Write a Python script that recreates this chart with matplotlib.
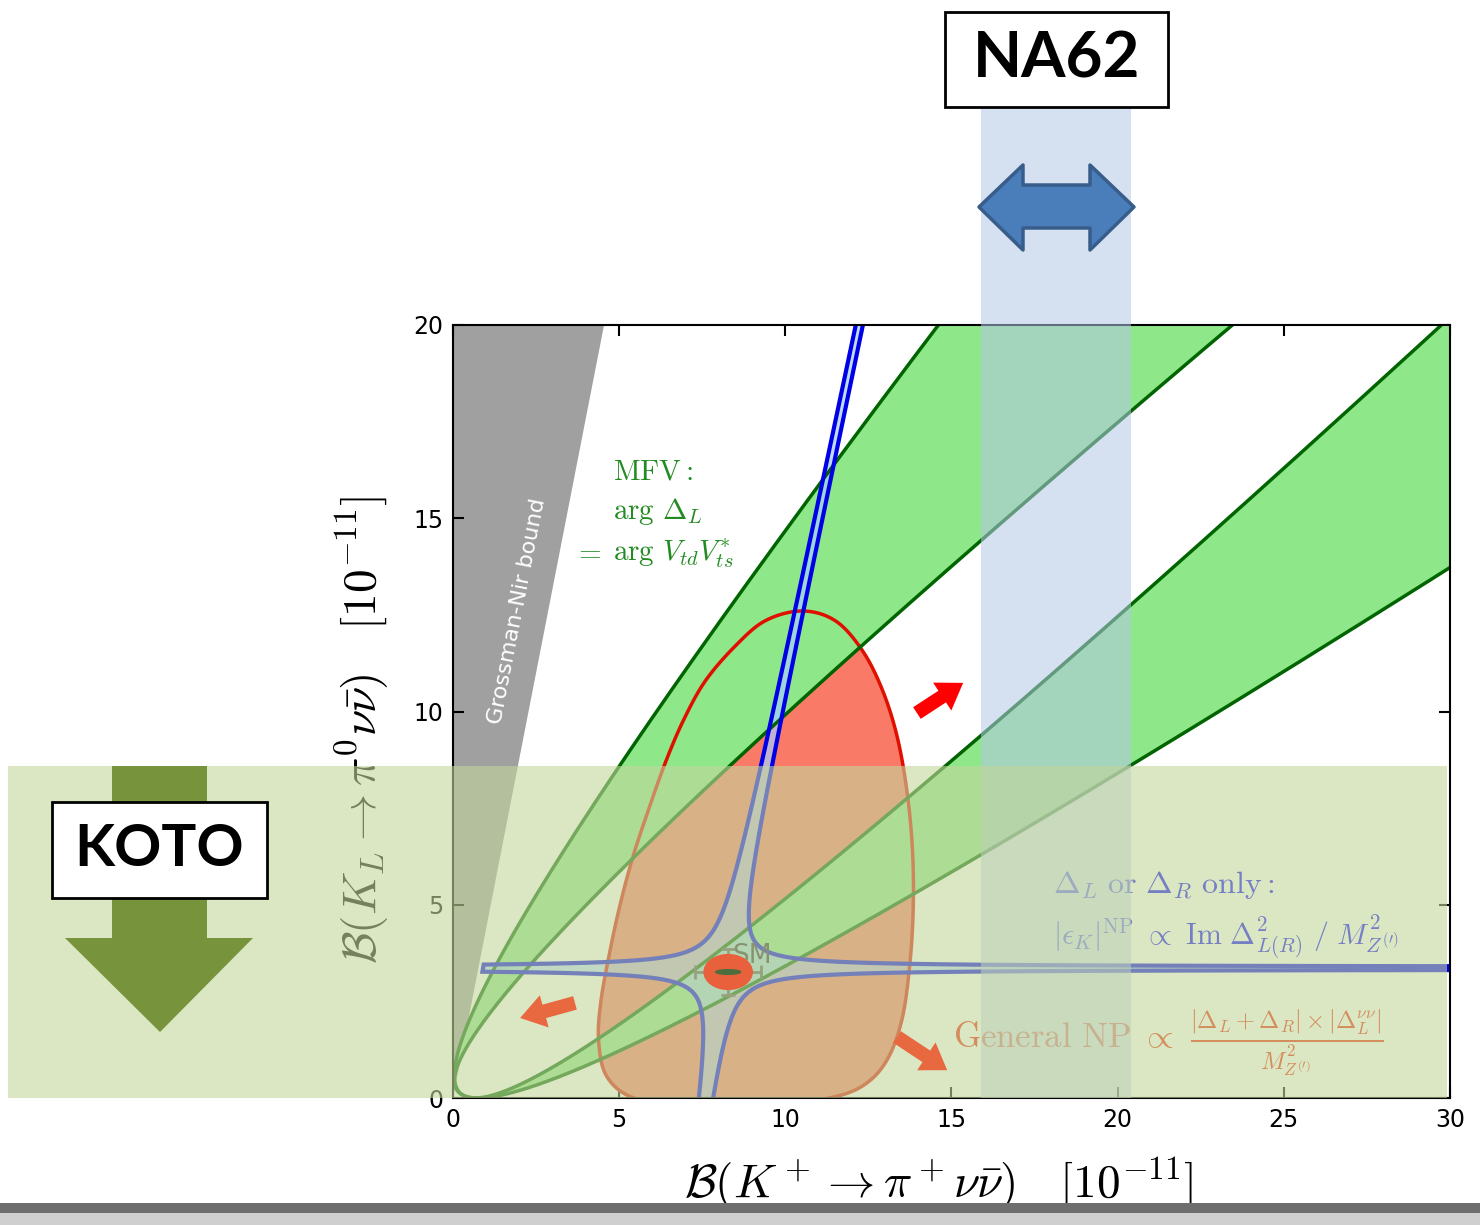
import numpy as np
import matplotlib
matplotlib.use('Agg')
import matplotlib.pyplot as plt
from matplotlib.patches import Polygon, Rectangle, Ellipse, FancyArrowPatch
from matplotlib.transforms import blended_transform_factory as blend

plt.rcParams['mathtext.fontset'] = 'cm'
plt.rcParams['font.family'] = 'DejaVu Sans'

x_ticks = [0, 5, 10, 15, 20, 25, 30]
y_ticks = [0, 5, 10, 15, 20]

# Grossman-Nir bound  B(KL) < gn_slope * B(K+)
gn_slope = 4.4

# MFV band edges: sqrt(B+) = k*sqrt(B_L) -/+ d   (outer edge, inner edge)
mfv_k_steep = [1.030, 1.272]
mfv_k_flat = [1.042, 1.248]
mfv_d = [0.79, 0.85]

# general NP region outline
np_x = [10.5, 9.4, 8.5, 7.6, 6.95, 6.4, 5.9, 5.4, 5.0, 4.7, 4.45, 4.38, 4.6,
        5.3, 6.5, 8.0, 9.5, 11.0, 12.2, 13.0, 13.5, 13.75, 13.85, 13.82,
        13.65, 13.35, 12.9, 12.3, 11.5]
np_y = [12.6, 12.35, 11.7, 10.8, 9.8, 8.7, 7.5, 6.2, 4.9, 3.7, 2.5, 1.5, 0.6,
        0.05, -0.15, -0.2, -0.15, -0.05, 0.25, 0.9, 2.0, 3.5, 5.0, 6.5,
        8.0, 9.4, 10.6, 11.6, 12.35]

# Delta_L or Delta_R only
cross_x0, cross_y0 = 8.15, 3.36
cross_c = 0.45
cross_wx, cross_wy = 0.08, 0.03
cross_tilt_up, cross_tilt_dn = 0.245, 0.16
cross_left = 0.9

# SM prediction
sm_x, sm_y = 8.28, 3.26
sm_xerr, sm_yerr = 1.0, 0.6

# experiments
koto_ymax = 8.6
na62_range = [15.9, 20.4]

W, H = 1480, 1225


def fx(p):
    return p / W


def fy(p):
    return 1 - p / H


def closed_spline(px, py, n=30):
    p = np.column_stack([px, py])
    m = len(p)
    t = np.linspace(0, 1, n, endpoint=False)[:, None]
    out = []
    for i in range(m):
        p0, p1, p2, p3 = p[i - 1], p[i], p[(i + 1) % m], p[(i + 2) % m]
        out.append(0.5 * (2 * p1 + (-p0 + p2) * t
                          + (2 * p0 - 5 * p1 + 4 * p2 - p3) * t ** 2
                          + (-p0 + 3 * p1 - 3 * p2 + p3) * t ** 3))
    return np.vstack(out)


fig = plt.figure(figsize=(W / 100, H / 100), dpi=100)
ax = fig.add_axes([fx(453), fy(1098), (1450 - 453) / W, (1098 - 325) / H])
ax.set_xlim(0, 30)
ax.set_ylim(0, 20)

# Grossman-Nir region
ax.add_patch(Polygon([(0, 0), (20 / gn_slope, 20), (0, 20)], closed=True,
                     fc='#a0a0a0', ec='none', zorder=1))
ang = np.degrees(np.arctan2(gn_slope * 773 / 20, 997 / 30))
ax.text(1.93, 12.6, 'Grossman-Nir bound', color='white', fontsize=16,
        rotation=ang, ha='center', va='center', rotation_mode='anchor', zorder=2)

# general NP region
egg = closed_spline(np_x, np_y)
ax.add_patch(Polygon(egg, closed=True, fc='#fa7a68', ec='none', zorder=2))

# MFV bands
t = np.linspace(-5, 5, 801)
edges = []
for ks, kf, d in zip(mfv_k_steep, mfv_k_flat, mfv_d):
    k = np.where(t < 0, ks, kf)
    edges.append(((k * t + d) ** 2 + 0.04, t ** 2))
up = t <= 0
lo = t >= 0
for sel in (up, lo):
    xs = np.concatenate([edges[0][0][sel], edges[1][0][sel][::-1]])
    ys = np.concatenate([edges[0][1][sel], edges[1][1][sel][::-1]])
    ax.fill(xs, ys, color='#8ee88a', lw=0, zorder=3)

# Delta_L / Delta_R cross
sc = np.sqrt(cross_c)
tau_up = -np.log((17.5 - cross_wy) / sc)
tau_dn = -np.log((3.8 - cross_wy) / sc)
tau_left = np.log((cross_x0 - cross_left - cross_wx) / sc)
tau_right = np.log((23.0 - cross_wx) / sc)


def branch(sx, sy, a, b):
    tau = np.linspace(a, b, 400)
    X = sx * (cross_wx + sc * np.exp(tau))
    Y = sy * (cross_wy + sc * np.exp(-tau))
    tilt = cross_tilt_up if sy > 0 else cross_tilt_dn
    return cross_x0 + tilt * Y + X, cross_y0 + Y


parts = [branch(-1, 1, tau_up, tau_left), branch(-1, -1, tau_left, tau_dn),
         branch(1, -1, tau_dn, tau_right), branch(1, 1, tau_right, tau_up)]
cx = np.concatenate([p[0] for p in parts])
cy = np.concatenate([p[1] for p in parts])
ax.add_patch(Polygon(np.column_stack([cx, cy]), closed=True, fc='#a6ccff',
                     alpha=0.7, ec='none', zorder=3.5))

ax.add_patch(Polygon(egg, closed=True, fc='none', ec='#e01000', lw=2.5, zorder=4))
for ex, ey in edges:
    ax.plot(ex, ey, color='#006400', lw=2.5, zorder=4.5)
ax.add_patch(Polygon(np.column_stack([cx, cy]), closed=True, fc='none',
                     ec='#0000e6', lw=3, zorder=5))

# SM point
ax.errorbar(sm_x, sm_y, xerr=sm_xerr, yerr=sm_yerr, color='#555555', lw=2,
            capsize=5, capthick=2, zorder=6)
ax.text(8.4, 3.49, 'SM', color='#303030', fontsize=19, zorder=7)

# upper NP shift direction
ax.add_patch(FancyArrowPatch((13.96, 9.96), (15.35, 10.74),
                             arrowstyle='simple,head_length=0.45,head_width=0.6,tail_width=0.25',
                             mutation_scale=40, color='#ff0000', lw=0,
                             shrinkA=0, shrinkB=0, zorder=7))

# annotations
green = '#228b22'
ax.text(4.81, 16.0, r'$\mathrm{MFV:}$', color=green, fontsize=21, va='baseline')
ax.text(4.81, 14.97, r'$\mathrm{arg}\ \Delta_L$', color=green, fontsize=21, va='baseline')
ax.text(3.62, 13.92, r'$=$', color=green, fontsize=21, va='baseline')
ax.text(4.81, 13.92, r'$\mathrm{arg}\ V_{td}V_{ts}^{*}$', color=green, fontsize=21,
        va='baseline')

ax.text(18.06, 5.30, r'$\Delta_L\ \mathrm{or}\ \Delta_R\ \mathrm{only:}$',
        color='#0000ff', fontsize=23, va='baseline', zorder=8)
ax.text(18.06, 3.96,
        r'$|\epsilon_K|^{\mathrm{NP}}\ \propto\ \mathrm{Im}\ \Delta^2_{L(R)}\ /\ M^2_{Z^{(\prime)}}$',
        color='#0000ff', fontsize=21.5, va='baseline', zorder=8)
ax.text(15.05, 1.29,
        r'$\mathrm{General\ NP}\ \propto\ \frac{|\Delta_L+\Delta_R|\times|\Delta_L^{\nu\nu}|}{M^2_{Z^{(\prime)}}}$',
        color='#ee2200', fontsize=25, va='baseline', zorder=8)

ax.set_xticks(x_ticks)
ax.set_yticks(y_ticks)
ax.tick_params(direction='in', top=True, right=True, length=8, width=1.5,
               labelsize=17, pad=7)
for s in ax.spines.values():
    s.set_linewidth(1.5)
    s.set_zorder(10)

ax.text((939 - 453) / 997, -0.129,
        r'$\mathcal{B}(K^+ \to \pi^+ \nu\bar{\nu})\quad[10^{-11}]$',
        transform=ax.transAxes, ha='center', va='baseline', fontsize=34)
ax.text(-0.0913, 0.476,
        r'$\mathcal{B}(K_L \to \pi^0 \nu\bar{\nu})\quad[10^{-11}]$',
        transform=ax.transAxes, ha='center', va='center', rotation=90, fontsize=34)

# NA62 and KOTO reach
fig.add_artist(Rectangle((na62_range[0], fy(1098)), na62_range[1] - na62_range[0],
                         fy(108) - fy(1098), transform=blend(ax.transData, fig.transFigure),
                         fc='#b4c7e7', alpha=0.55, lw=0, zorder=5))
fig.add_artist(Rectangle((fx(8), 0), fx(1447) - fx(8), koto_ymax,
                         transform=blend(fig.transFigure, ax.transData),
                         fc='#c3d69b', alpha=0.6, lw=0, zorder=6))

# SM marker and lower shift arrows sit above the KOTO shading
fig.add_artist(Ellipse((sm_x, sm_y), 1.45, 0.9, transform=ax.transData,
                       color='#e8603c', zorder=6.5))
fig.add_artist(Ellipse((sm_x, sm_y), 0.75, 0.12, transform=ax.transData,
                       color='#4c6e3c', zorder=6.6))
for (x0, y0), (x1, y1) in [((3.67, 2.46), (2.02, 2.07)),
                           ((13.36, 1.58), (14.87, 0.72))]:
    fig.add_artist(FancyArrowPatch((x0, y0), (x1, y1), transform=ax.transData,
                                   arrowstyle='simple,head_length=0.45,head_width=0.6,tail_width=0.25',
                                   mutation_scale=40, color='#e8683f', lw=0,
                                   shrinkA=0, shrinkB=0, zorder=6.5))

koto_arrow = [(112, 766), (207, 766), (207, 938), (253, 938), (160, 1032),
              (65, 938), (112, 938)]
fig.add_artist(Polygon([(fx(a), fy(b)) for a, b in koto_arrow], closed=True,
                       transform=fig.transFigure, fc='#77933c', ec='none', zorder=7))
na62_arrow = [(979, 207), (1023, 165), (1023, 185), (1090, 185), (1090, 165),
              (1134, 207), (1090, 250), (1090, 228), (1023, 228), (1023, 250)]
fig.add_artist(Polygon([(fx(a), fy(b)) for a, b in na62_arrow], closed=True,
                       transform=fig.transFigure, fc='#4a7ebb', ec='#385d8a',
                       lw=2.5, joinstyle='round', zorder=7))

for (x0, y0, x1, y1), label, size in [((52, 802, 267, 898), 'KOTO', 42),
                                      ((945, 12, 1168, 107), 'NA62', 46)]:
    fig.add_artist(Rectangle((fx(x0), fy(y1)), fx(x1) - fx(x0), fy(y0) - fy(y1),
                             transform=fig.transFigure, fc='white', ec='black',
                             lw=2, zorder=8))
    fig.text(fx((x0 + x1) / 2), fy((y0 + y1) / 2), label, ha='center', va='center',
             fontsize=size, fontweight='bold', family='Lato', zorder=9)

# strip along the bottom edge
fig.add_artist(Rectangle((0, 0), 1, 12 / H, transform=fig.transFigure,
                         fc='#cfcfcf', lw=0, zorder=9))
fig.add_artist(Rectangle((0, 12 / H), 1, 10 / H, transform=fig.transFigure,
                         fc='#6e6e6e', lw=0, zorder=9))

fig.savefig('out.png', dpi=100, facecolor='white')
